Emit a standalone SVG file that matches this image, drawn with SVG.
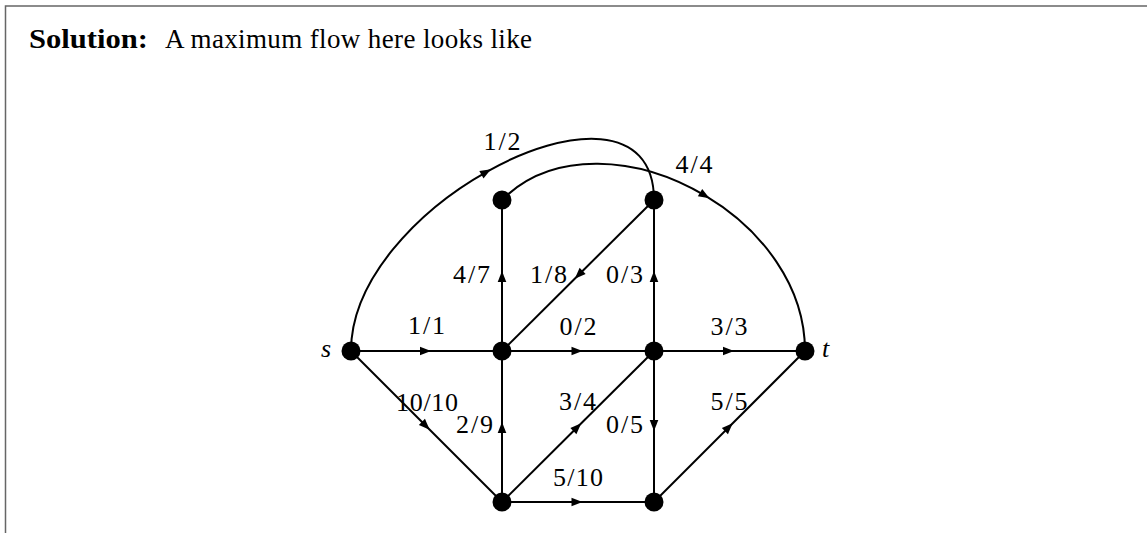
<svg xmlns="http://www.w3.org/2000/svg" width="1147" height="533" viewBox="0 0 1147 533">
<defs>
<marker id="arr" markerUnits="userSpaceOnUse" markerWidth="14" markerHeight="12" viewBox="-8 -6 14 12" refX="0" refY="0" orient="auto"><path d="M4.5,0 L-6.5,-4.3 L-6.5,4.3 Z" fill="#000"/></marker>
</defs>
<style>
.frame{fill:none;stroke:#666;stroke-width:1.5}
.edge{fill:none;stroke:#000;stroke-width:2;marker-mid:url(#arr)}
.node{fill:#000}
.txt{font-family:"Liberation Serif","Times New Roman",serif;font-size:27px;fill:#000}
.lbl{font-family:"Liberation Serif","Times New Roman",serif;font-size:26px;fill:#000}
.m{text-anchor:middle}
.e{text-anchor:end}
.it{font-style:italic}
</style>
<rect width="1147" height="533" fill="#fff"/>
<path class="frame" d="M5.5,533 L5.5,6 L1147,6"/>
<text class="txt" x="29" y="48" font-weight="bold" textLength="119" lengthAdjust="spacingAndGlyphs">Solution:</text>
<text class="txt" x="165" y="48" textLength="367">A maximum flow here looks like</text>
<g id="connectors">
<path class="edge" d="M351,351 L426.5,351 L502,351"/>
<path class="edge" d="M502,351 L578,351 L654,351"/>
<path class="edge" d="M654,351 L729.5,351 L805,351"/>
<path class="edge" d="M502,351 L502,275.5 L502,200"/>
<path class="edge" d="M654,200 L578,275.5 L502,351"/>
<path class="edge" d="M654,351 L654,275.5 L654,200"/>
<path class="edge" d="M351,351 L426.5,426.5 L502,502"/>
<path class="edge" d="M502,502 L502,426.5 L502,351"/>
<path class="edge" d="M502,502 L578,426.5 L654,351"/>
<path class="edge" d="M654,351 L654,426.5 L654,502"/>
<path class="edge" d="M502,502 L578,502 L654,502"/>
<path class="edge" d="M654,502 L729.5,426.5 L805,351"/>
<path class="edge" d="M351,351 C351,280.63 416.80,210.92 487.07,171.51 C567.60,126.34 654,120.97 654,200"/>
<path class="edge" d="M502,200 C553.07,148.93 638.47,155.91 705.61,195.97 C761.67,229.42 805,285.94 805,351"/>
<text class="lbl m" x="426.5" y="334" textLength="37">1/1</text>
<text class="lbl m" x="578" y="335" textLength="37">0/2</text>
<text class="lbl m" x="729" y="335" textLength="37">3/3</text>
<text class="lbl e" x="490" y="283" textLength="37">4/7</text>
<text class="lbl e" x="567" y="283" textLength="37">1/8</text>
<text class="lbl e" x="643" y="283" textLength="37">0/3</text>
<text class="lbl m" x="427" y="411" textLength="62">10/10</text>
<text class="lbl e" x="493" y="433" textLength="37">2/9</text>
<text class="lbl m" x="577.5" y="410" textLength="37">3/4</text>
<text class="lbl e" x="643" y="433" textLength="37">0/5</text>
<text class="lbl m" x="729" y="410" textLength="37">5/5</text>
<text class="lbl m" x="578" y="486" textLength="50">5/10</text>
<text class="lbl m" x="502" y="150" textLength="37">1/2</text>
<text class="lbl m" x="694" y="173" textLength="37">4/4</text>
</g>
<g id="node-s"><circle class="node" cx="351" cy="351" r="9.5"/><text class="lbl e it" x="331" y="357">s</text></g>
<g id="node-a"><circle class="node" cx="502" cy="200" r="9.5"/></g>
<g id="node-b"><circle class="node" cx="654" cy="200" r="9.5"/></g>
<g id="node-c"><circle class="node" cx="502" cy="351" r="9.5"/></g>
<g id="node-d"><circle class="node" cx="654" cy="351" r="9.5"/></g>
<g id="node-t"><circle class="node" cx="805" cy="351" r="9.5"/><text class="lbl it" x="822" y="357">t</text></g>
<g id="node-e"><circle class="node" cx="502" cy="502" r="9.5"/></g>
<g id="node-f"><circle class="node" cx="654" cy="502" r="9.5"/></g>
</svg>
